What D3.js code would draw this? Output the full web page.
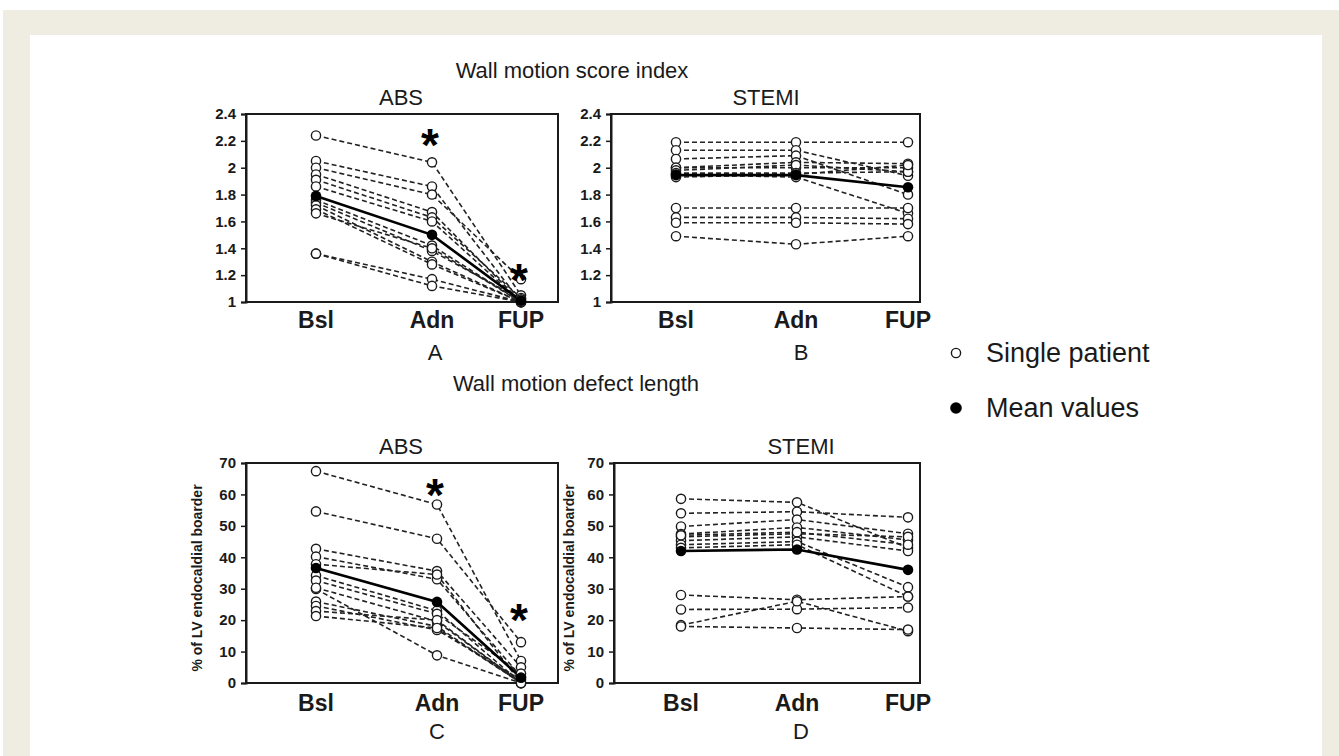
<!DOCTYPE html>
<html lang="en">
<head>
<meta charset="UTF-8">
<title>Wall motion score index / defect length</title>
<script src="https://d3js.org/d3.v7.min.js"></script>
<style>
  body { margin: 0; background: #fff; }
  svg { display: block; font-family: Arial, "Liberation Sans", sans-serif; }
</style>
</head>
<body>
<svg id="fig" width="1339" height="756"></svg>
<script>
const categories = ["Bsl", "Adn", "FUP"];

// wall motion score index, one row per patient: Bsl, Adn, FUP
const wmsiAbs = [
  [2.24, 2.04, 1.05], [2.05, 1.86, 1.00], [2.00, 1.80, 1.17], [1.95, 1.67, 1.00],
  [1.91, 1.63, 1.03], [1.86, 1.60, 1.00], [1.76, 1.42, 1.00], [1.74, 1.38, 1.02],
  [1.72, 1.30, 1.00], [1.69, 1.28, 1.00], [1.66, 1.40, 1.00], [1.36, 1.17, 1.00],
  [1.36, 1.12, 1.00]
];
const wmsiAbsMean = [1.79, 1.50, 1.01];

const wmsiStemi = [
  [2.19, 2.19, 2.19], [2.13, 2.13, 1.94], [2.065, 2.09, 1.80], [2.00, 2.04, 2.03],
  [2.00, 2.00, 2.00], [1.98, 2.02, 1.97], [1.96, 1.96, 1.97], [1.95, 1.93, 1.66],
  [1.93, 1.95, 2.02], [1.70, 1.70, 1.70], [1.63, 1.63, 1.62], [1.59, 1.59, 1.58],
  [1.49, 1.43, 1.49]
];
const wmsiStemiMean = [1.945, 1.945, 1.855];
const wmsiTicks = [1, 1.2, 1.4, 1.6, 1.8, 2, 2.2, 2.4];

// wall motion defect length, % of LV endocardial border
const defectAbs = [
  [67.4, 56.8, 7], [54.6, 45.9, 13], [42.7, 35.6, 5], [40.2, 33.0, 2],
  [37.8, 34.5, 0], [34.2, 23.0, 0], [32.6, 22.0, 3], [29.9, 8.8, 0],
  [30.3, 19.6, 0], [25.9, 18.0, 0], [24.5, 16.9, 1], [22.9, 20.0, 0],
  [21.3, 17.5, 0]
];
const defectAbsMean = [36.6, 25.8, 1.7];

const defectStemi = [
  [58.6, 57.5, 43], [54.0, 54.5, 52.7], [49.8, 52.0, 47.5], [47.4, 49.5, 45.5],
  [46.5, 47.5, 46.5], [45.3, 46.5, 42], [44.0, 45.0, 30.5], [43.0, 44.0, 27.5],
  [47.0, 48.0, 44], [28.0, 26.5, 27.5], [23.4, 23.5, 24], [18.4, 26.0, 16.5],
  [18.0, 17.5, 17]
];
const defectStemiMean = [42, 42.5, 36];
const defectTicks = [0, 10, 20, 30, 40, 50, 60, 70];

// significance marks: [category, value]
const starsWmsi = [["Adn", 2.24], ["FUP", 1.24]];
const starsDefect = [["Adn", 63], ["FUP", 23]];

const svg = d3.select("#fig");
const ink = "#1a1a1a";

// journal frame
svg.append("rect").attr("x", 3).attr("y", 10).attr("width", 1336).attr("height", 746).attr("fill", "#efece2");
svg.append("rect").attr("x", 30).attr("y", 35).attr("width", 1292).attr("height", 721).attr("fill", "#fff");

function drawPanel(cfg) {
  const y = d3.scaleLinear().domain(cfg.domain).range([cfg.bottom, cfg.top]);
  const x = d3.scaleOrdinal().domain(categories).range(cfg.xs);
  const g = svg.append("g");

  g.append("rect")
    .attr("x", cfg.left).attr("y", cfg.top)
    .attr("width", cfg.right - cfg.left).attr("height", cfg.bottom - cfg.top)
    .attr("fill", "none").attr("stroke", ink).attr("stroke-width", 2);

  const ay = g.append("g")
    .attr("transform", `translate(${cfg.left},0)`)
    .call(d3.axisLeft(y).tickValues(cfg.ticks).tickFormat(d => String(d)).tickSize(5).tickPadding(5));
  ay.select(".domain").attr("stroke", ink).attr("stroke-width", 2);
  ay.selectAll(".tick line").attr("stroke", ink).attr("stroke-width", 1.5);
  ay.selectAll("text").attr("font-size", 15).attr("font-weight", "bold").attr("fill", ink)
    .attr("font-family", "Arial, 'Liberation Sans', sans-serif");

  // category labels under the frame
  g.selectAll(".cat").data(categories).join("text")
    .attr("class", "cat")
    .attr("x", d => x(d)).attr("y", cfg.bottom + cfg.catGap)
    .attr("text-anchor", "middle").attr("font-size", 23).attr("font-weight", "bold").attr("fill", ink)
    .text(d => d);

  const line = d3.line().x((d, i) => x(categories[i])).y(d => y(d));

  g.selectAll(".patient").data(cfg.patients).join("path")
    .attr("class", "patient")
    .attr("d", line)
    .attr("fill", "none").attr("stroke", "#222").attr("stroke-width", 1.6)
    .attr("stroke-dasharray", "5,3");

  g.append("path").datum(cfg.mean)
    .attr("d", line)
    .attr("fill", "none").attr("stroke", "#000").attr("stroke-width", 2.6);

  const pts = cfg.patients.flatMap(p => p.map((v, i) => ({ c: categories[i], v })));
  g.selectAll(".single").data(pts).join("circle")
    .attr("class", "single")
    .attr("cx", d => x(d.c)).attr("cy", d => y(d.v)).attr("r", 4.6)
    .attr("fill", "#fff").attr("stroke", ink).attr("stroke-width", 1.4);

  g.selectAll(".mean").data(cfg.mean).join("circle")
    .attr("class", "mean")
    .attr("cx", (d, i) => x(categories[i])).attr("cy", d => y(d)).attr("r", 5.3)
    .attr("fill", "#000");

  g.selectAll(".star").data(cfg.stars || []).join("text")
    .attr("class", "star")
    .attr("x", d => x(d[0]) - 2).attr("y", d => y(d[1]))
    .attr("dy", "0.56em")
    .attr("text-anchor", "middle")
    .attr("font-size", 46).attr("font-weight", "bold").attr("fill", "#000")
    .text("*");

  g.append("text").attr("x", cfg.titleX).attr("y", cfg.top - 9)
    .attr("text-anchor", "middle").attr("font-size", 22).attr("fill", ink)
    .text(cfg.title);
  g.append("text").attr("x", cfg.letterX).attr("y", cfg.bottom + cfg.letterGap)
    .attr("text-anchor", "middle").attr("font-size", 22).attr("fill", ink)
    .text(cfg.letter);

  if (cfg.yTitle) {
    g.append("text")
      .attr("transform", `translate(${cfg.left - cfg.yTitleGap},${(cfg.top + cfg.bottom) / 2 + 5}) rotate(-90)`)
      .attr("text-anchor", "middle").attr("font-size", 14).attr("font-weight", "bold").attr("fill", ink)
      .text(cfg.yTitle);
  }
}

drawPanel({ left: 246, right: 558, top: 114, bottom: 302, xs: [316, 432, 521],
  domain: [1, 2.4], ticks: wmsiTicks, patients: wmsiAbs, mean: wmsiAbsMean,
  stars: starsWmsi, title: "ABS", titleX: 401, letter: "A", letterX: 435,
  catGap: 26, letterGap: 58 });
drawPanel({ left: 611, right: 920, top: 114, bottom: 302, xs: [676, 796, 908],
  domain: [1, 2.4], ticks: wmsiTicks, patients: wmsiStemi, mean: wmsiStemiMean,
  title: "STEMI", titleX: 766, letter: "B", letterX: 801,
  catGap: 26, letterGap: 58 });
drawPanel({ left: 246, right: 558, top: 463, bottom: 683, xs: [316, 437, 521],
  domain: [0, 70], ticks: defectTicks, patients: defectAbs, mean: defectAbsMean,
  stars: starsDefect, title: "ABS", titleX: 401, letter: "C", letterX: 437,
  catGap: 28, letterGap: 56, yTitle: "% of LV endocaldial boarder", yTitleGap: 44 });
drawPanel({ left: 614, right: 920, top: 463, bottom: 683, xs: [681, 797, 908],
  domain: [0, 70], ticks: defectTicks, patients: defectStemi, mean: defectStemiMean,
  title: "STEMI", titleX: 801, letter: "D", letterX: 801,
  catGap: 28, letterGap: 56, yTitle: "% of LV endocaldial boarder", yTitleGap: 40 });

svg.append("text").attr("x", 572).attr("y", 78)
  .attr("text-anchor", "middle").attr("font-size", 22).attr("fill", ink)
  .text("Wall motion score index");
svg.append("text").attr("x", 576).attr("y", 391)
  .attr("text-anchor", "middle").attr("font-size", 22).attr("fill", ink)
  .text("Wall motion defect length");

// legend
const legend = svg.append("g").attr("transform", "translate(956,353)");
legend.append("circle").attr("r", 4.6).attr("fill", "#fff").attr("stroke", ink).attr("stroke-width", 1.4);
legend.append("circle").attr("cy", 55).attr("r", 5.8).attr("fill", "#000");
legend.append("text").attr("x", 30).attr("y", 9).attr("font-size", 27).attr("fill", ink).text("Single patient");
legend.append("text").attr("x", 30).attr("y", 64).attr("font-size", 27).attr("fill", ink).text("Mean values");
</script>
</body>
</html>
